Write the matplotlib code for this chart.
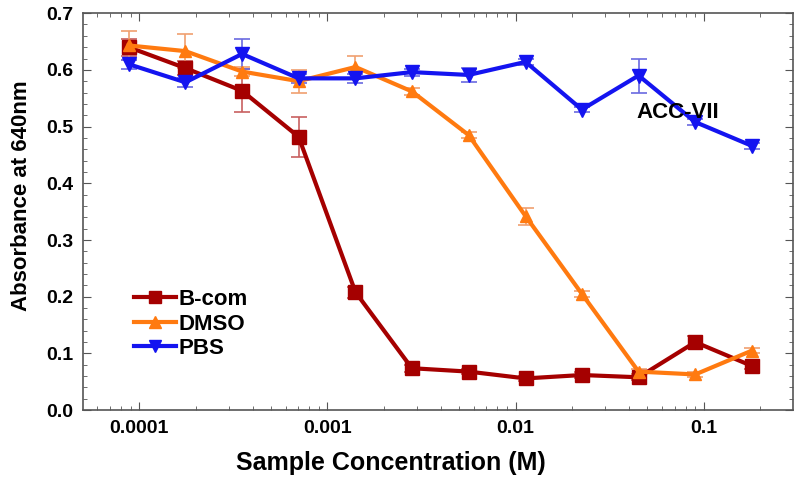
import matplotlib
matplotlib.use('Agg')
import matplotlib.pyplot as plt
import numpy as np
from matplotlib.ticker import FixedLocator, MultipleLocator, LogLocator, NullFormatter
from matplotlib.lines import Line2D

plt.rcParams['font.family'] = ['Liberation Sans', 'DejaVu Sans']
plt.rcParams['font.weight'] = 'bold'

#=======================================================
conc = [0.0000879, 0.000176, 0.000352, 0.000703, 0.00141, 0.00281,
        0.00563, 0.0113, 0.0225, 0.045, 0.09, 0.18]

bcom = [0.640, 0.603, 0.563, 0.482, 0.208, 0.074, 0.068, 0.056, 0.062, 0.058, 0.120, 0.078]
bcom_err = [0.015, 0.012, 0.038, 0.035, 0.010, 0.006, 0.005, 0.005, 0.005, 0.005, 0.010, 0.006]

dmso = [0.643, 0.633, 0.597, 0.580, 0.605, 0.562, 0.485, 0.342, 0.205, 0.068, 0.063, 0.105]
dmso_err = [0.025, 0.030, 0.008, 0.020, 0.020, 0.006, 0.005, 0.015, 0.005, 0.004, 0.004, 0.005]

pbs = [0.610, 0.578, 0.628, 0.585, 0.585, 0.596, 0.591, 0.614, 0.530, 0.590, 0.508, 0.466]
pbs_err = [0.008, 0.008, 0.027, 0.008, 0.008, 0.006, 0.012, 0.006, 0.005, 0.030, 0.005, 0.005]

series = [("B-com", bcom, bcom_err, '#a50000', '#c86060', 's', 10),
          ("DMSO", dmso, dmso_err, '#ff7a10', '#f0a070', '^', 9),
          ("PBS", pbs, pbs_err, '#1414f0', '#6a6ae0', 'v', 10)]

#=======================================================
fig = plt.figure(figsize=(8, 4.86), dpi=100)
ax = fig.add_axes([0.104, 0.156, 0.887, 0.817])

handles = []
for name, y, e, c, ec, m, ms in series:
    ax.errorbar(conc, y, yerr=e, color=c, ecolor=ec, elinewidth=1.2, capsize=6,
                capthick=1.2, marker=m, ms=ms, lw=3)
    handles.append(Line2D([], [], color=c, marker=m, ms=8, lw=3, label=name))

ax.set_xscale('log')
ax.set_xlim(5.04e-5, 0.297)
ax.set_ylim(0, 0.7)

ax.xaxis.set_major_locator(FixedLocator([0.0001, 0.001, 0.01, 0.1]))
ax.set_xticklabels(['0.0001', '0.001', '0.01', '0.1'])
ax.xaxis.set_minor_locator(LogLocator(base=10, subs=np.arange(2, 10), numticks=20))
ax.xaxis.set_minor_formatter(NullFormatter())
ax.yaxis.set_major_locator(MultipleLocator(0.1))
ax.yaxis.set_minor_locator(MultipleLocator(0.02))
ax.yaxis.set_major_formatter(matplotlib.ticker.FormatStrFormatter('%.1f'))

ax.tick_params(which='both', direction='in', top=True, right=True, color='#555555')
ax.tick_params(which='major', length=6, labelsize=14, pad=7)
ax.tick_params(which='minor', length=3)
for s in ax.spines.values():
    s.set_color('#555555')
    s.set_linewidth(1.2)

ax.set_xlabel('Sample Concentration (M)', fontsize=18, fontweight='bold', labelpad=10, x=0.434)
ax.set_ylabel('Absorbance at 640nm', fontsize=16, fontweight='bold', labelpad=10, y=0.54)

ax.text(0.044, 0.524, 'ACC-VII', fontsize=16, fontweight='bold', va='center', ha='left')

leg = ax.legend(handles=handles, loc='lower left', bbox_to_anchor=(0.05, 0.09), frameon=False,
                fontsize=16, handlelength=1.9, handletextpad=0.1, labelspacing=0.15, borderpad=0.2)

fig.savefig('out.png', dpi=100)
